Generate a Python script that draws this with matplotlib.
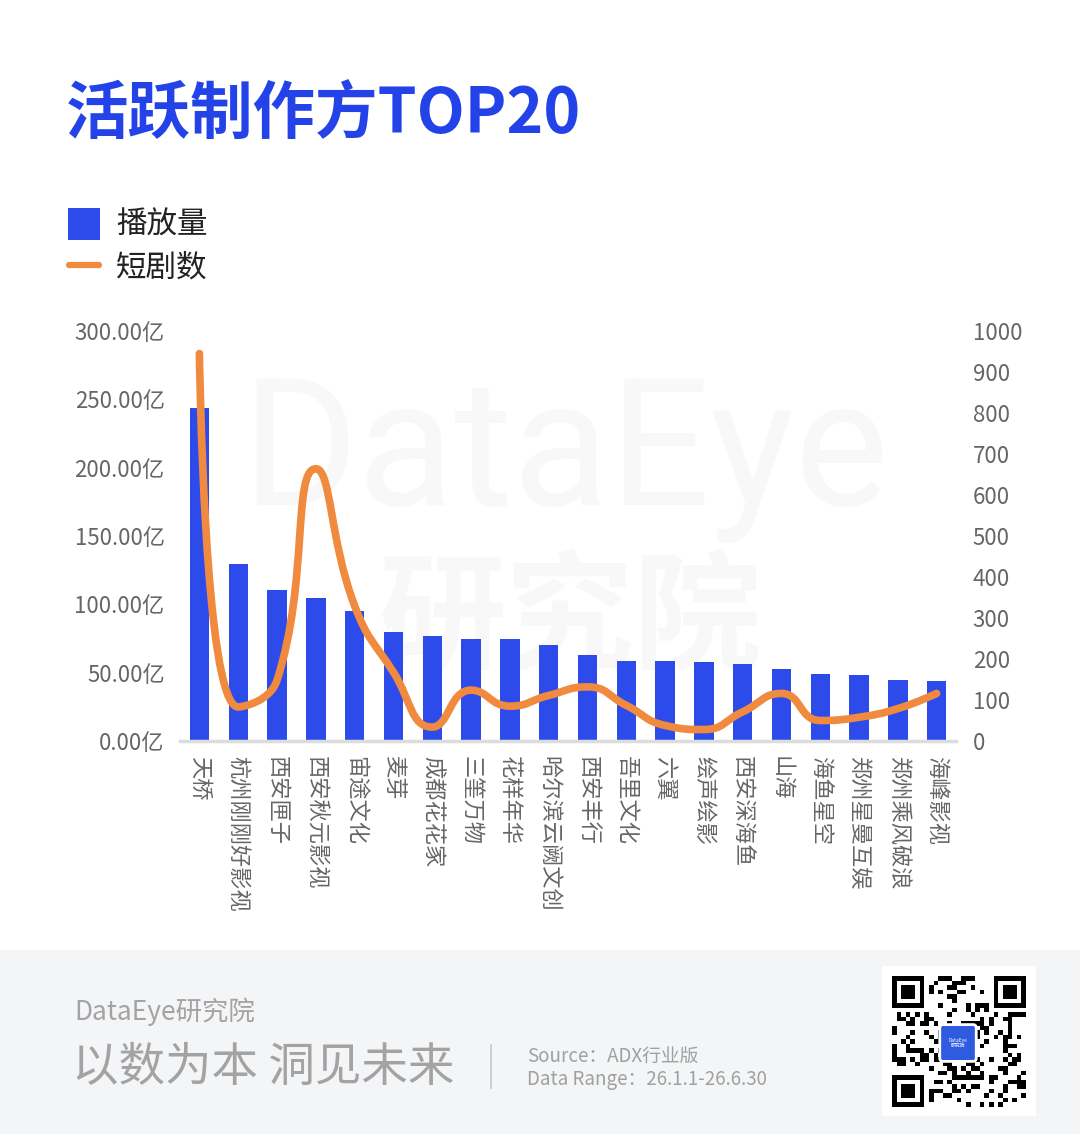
import numpy as np
import matplotlib.pyplot as plt
from matplotlib.path import Path
from matplotlib.patches import PathPatch, Rectangle, FancyBboxPatch
from matplotlib.lines import Line2D

plt.rcParams['font.family'] = ['Noto Sans CJK SC', 'DejaVu Sans']

# 数据
companies = ['天桥', '杭州刚刚好影视', '西安匣子', '西安秋元影视', '宙途文化', '麦芽',
             '成都花花家', '三筀万物', '花样年华', '哈尔滨云阙文创', '西安丰行', '吾里文化',
             '六翼', '绘声绘影', '西安深海鱼', '山海', '海鱼星空', '郑州星曼互娱',
             '郑州乘风破浪', '海峰影视']
play_yi = [243.9, 129.8, 110.8, 104.4, 95.1, 80.0, 76.8, 74.9, 74.9, 70.5,
           63.2, 58.8, 58.8, 58.1, 56.6, 53.0, 49.3, 48.6, 44.6, 44.2]
drama_cnt = [945, 83, 148, 664, 330, 168, 34, 124, 85, 111,
             132, 87, 38, 28, 71, 116, 50, 58, 79, 116]
left_ticks = [0, 50, 100, 150, 200, 250, 300]
right_ticks = [0, 100, 200, 300, 400, 500, 600, 700, 800, 900, 1000]

BLUE = '#2C4BEA'
TITLE_BLUE = '#2343E8'
ORANGE = '#F08A3E'
GRAY = '#666666'

W, H = 1080, 1134
fig = plt.figure(figsize=(W / 100, H / 100), dpi=100)
fig.patch.set_facecolor('white')


def fx(x):
    return x / W


def fy(y):
    return 1 - y / H


def smooth_path(xs, ys, sx, sy, k=0.5):
    # echarts 风格的平滑曲线（带约束的贝塞尔）
    px = np.asarray(xs, float) * sx
    py = np.asarray(ys, float) * sy
    n = len(px)
    c_in = [(px[i], py[i]) for i in range(n)]
    c_out = [(px[i], py[i]) for i in range(n)]
    for i in range(1, n - 1):
        x, y = px[i], py[i]
        vx = px[i + 1] - px[i - 1]
        vy = py[i + 1] - py[i - 1]
        d0 = np.hypot(x - px[i - 1], y - py[i - 1])
        d1 = np.hypot(px[i + 1] - x, py[i + 1] - y)
        r = d1 / (d0 + d1)
        nx = x + vx * k * r
        ny = y + vy * k * r
        nx = min(max(nx, min(px[i + 1], x)), max(px[i + 1], x))
        ny = min(max(ny, min(py[i + 1], y)), max(py[i + 1], y))
        vx, vy = nx - x, ny - y
        cx = x - vx * d0 / d1
        cy = y - vy * d0 / d1
        cx = min(max(cx, min(px[i - 1], x)), max(px[i - 1], x))
        cy = min(max(cy, min(py[i - 1], y)), max(py[i - 1], y))
        vx, vy = x - cx, y - cy
        nx = x + vx * d1 / d0
        ny = y + vy * d1 / d0
        c_in[i] = (cx, cy)
        c_out[i] = (nx, ny)
    verts = [(px[0], py[0])]
    codes = [Path.MOVETO]
    for i in range(n - 1):
        verts += [c_out[i], c_in[i + 1], (px[i + 1], py[i + 1])]
        codes += [Path.CURVE4] * 3
    verts = [(a / sx, b / sy) for a, b in verts]
    return Path(verts, codes)


# 底部灰色区域
fig.patches.append(Rectangle((0, 0), 1, fy(950), transform=fig.transFigure,
                             facecolor='#f4f5f7', edgecolor='none', zorder=-5))

# 水印
fig.text(fx(565), fy(458), 'DataEye', fontsize=128, color='#f8f8f8', ha='center', va='center',
         family=['Roboto', 'DejaVu Sans'], zorder=-2)
fig.text(fx(570), fy(622), '研究院', fontsize=92, color='#f8f8f8', ha='center', va='center',
         fontweight='bold', zorder=-2)

# 标题
fig.text(fx(66), fy(115), '活跃制作方TOP20', fontsize=45, fontweight='bold', color=TITLE_BLUE,
         ha='left', va='center')

# 图例
fig.patches.append(Rectangle((fx(68), fy(240)), fx(32), 32 / H, transform=fig.transFigure,
                             facecolor=BLUE, edgecolor='none'))
fig.lines.append(Line2D([fx(69), fx(99)], [fy(265), fy(265)], transform=fig.transFigure,
                        color=ORANGE, lw=4.5, solid_capstyle='round'))
fig.text(fx(116), fy(225), '播放量', fontsize=22, color='#222222', ha='left', va='center')
fig.text(fx(116), fy(268), '短剧数', fontsize=22, color='#222222', ha='left', va='center')

# 主图
ax = fig.add_axes([fx(180), fy(741), fx(956) - fx(180), (741 - 331) / H])
ax.patch.set_visible(False)
x = np.arange(len(companies))
ax.bar(x, play_yi, width=0.5, color=BLUE, zorder=2)
ax.set_xlim(-0.5, len(companies) - 0.5)
ax.set_ylim(0, 300)
ax.set_yticks(left_ticks)
ax.set_yticklabels([f'{v:.2f}亿' for v in left_ticks])
ax.set_xticks(x)
ax.set_xticklabels(companies, rotation=-90, ha='center', va='top')
ax.tick_params(axis='y', length=0, pad=11, labelsize=16, labelcolor=GRAY)
ax.tick_params(axis='x', length=0, pad=11, labelsize=16, labelcolor=GRAY)
for s in ['top', 'right', 'left']:
    ax.spines[s].set_visible(False)
ax.spines['bottom'].set_color('#dcdcdc')
ax.spines['bottom'].set_linewidth(2.5)

ax2 = ax.twinx()
ax2.patch.set_visible(False)
ax2.set_ylim(0, 1000)
ax2.set_yticks(right_ticks)
ax2.tick_params(axis='y', length=0, pad=12, labelsize=16, labelcolor=GRAY)
for s in ['top', 'right', 'left', 'bottom']:
    ax2.spines[s].set_visible(False)
path = smooth_path(x, drama_cnt, 38.8, 0.41)
ax2.add_patch(PathPatch(path, fill=False, edgecolor=ORANGE, lw=5.5, capstyle='round',
                        joinstyle='round', zorder=3))

# 页脚
fig.text(fx(74), fy(1012), 'DataEye研究院', fontsize=19, color='#a3a3a3', ha='left', va='center',
         fontweight='light')
fig.text(fx(72), fy(1068), '以数为本 洞见未来', fontsize=33.5, color='#a3a3a3', ha='left', va='center',
         fontweight='light')
fig.lines.append(Line2D([fx(491), fx(491)], [fy(1045), fy(1088)], transform=fig.transFigure,
                        color='#c8c8c8', lw=1.2))
fig.text(fx(527), fy(1056), 'Source：ADX行业版', fontsize=13.5, color='#a0a0a0', ha='left', va='center')
fig.text(fx(527), fy(1080), 'Data Range：26.1.1-26.6.30', fontsize=13.5, color='#a0a0a0',
         ha='left', va='center')

# 二维码（装饰）
fig.patches.append(Rectangle((fx(882), fy(1116)), fx(154), 150 / H, transform=fig.transFigure,
                             facecolor='white', edgecolor='none', zorder=-1))
qr = fig.add_axes([fx(892), fy(1107), fx(134), 131 / H])
n = 29
ii, jj = np.meshgrid(np.arange(n), np.arange(n), indexing='ij')
mods = (((ii * 7 + jj * 13) ^ (ii * jj + 5)) % 3 == 0).astype(float)
for r0, c0 in [(0, 0), (0, n - 7), (n - 7, 0)]:
    mods[max(r0 - 1, 0):r0 + 8, max(c0 - 1, 0):c0 + 8] = 0
    mods[r0:r0 + 7, c0:c0 + 7] = 1
    mods[r0 + 1:r0 + 6, c0 + 1:c0 + 6] = 0
    mods[r0 + 2:r0 + 5, c0 + 2:c0 + 5] = 1
qr.imshow(mods, cmap='Greys', interpolation='nearest', vmin=0, vmax=1, aspect='auto')
qr.axis('off')
fig.patches.append(FancyBboxPatch((fx(943), fy(1058)), fx(30), 30 / H, transform=fig.transFigure,
                                  boxstyle='round,pad=0.003', facecolor='#2E5BE0',
                                  edgecolor='white', lw=2, zorder=5))
fig.text(fx(958), fy(1043), 'DataEye\n研究院', fontsize=3.5, color='white', ha='center',
         va='center', zorder=6, linespacing=1.1)

fig.savefig('out.png', dpi=100, facecolor=fig.get_facecolor())
